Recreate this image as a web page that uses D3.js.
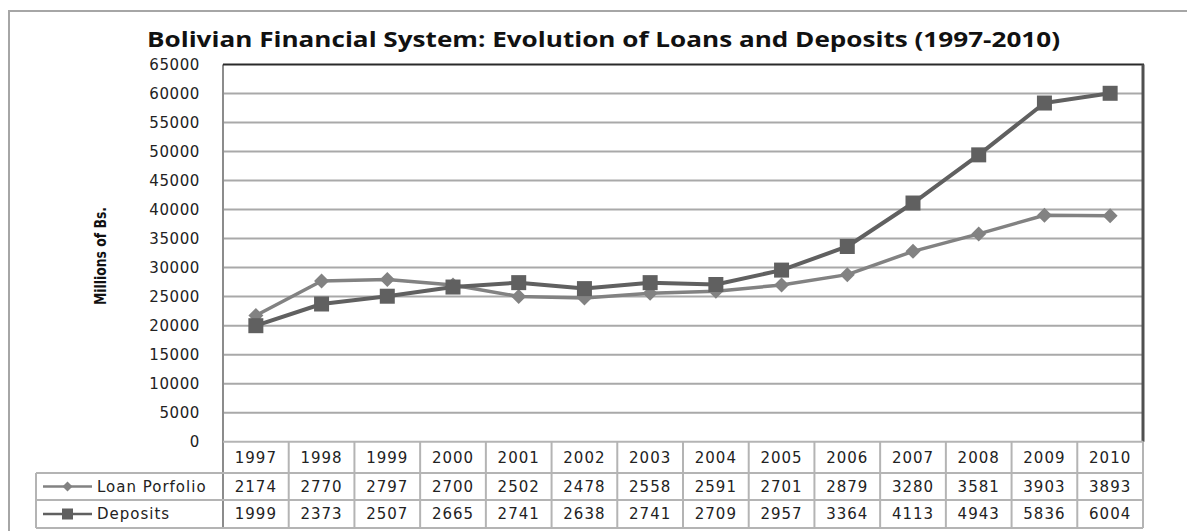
<!DOCTYPE html>
<html>
<head>
<meta charset="utf-8">
<script src="https://cdn.jsdelivr.net/npm/d3@7"></script>
<style>
  html, body { margin: 0; padding: 0; background: #fff; }
  svg { display: block; }
</style>
</head>
<body>
<svg id="chart" width="1187" height="531"></svg>
<script>
// Years shown along the category axis and in the data table header
const years = ["1997", "1998", "1999", "2000", "2001", "2002", "2003",
               "2004", "2005", "2006", "2007", "2008", "2009", "2010"];

// Table figures, in tens of millions of Bs.
const loanPortfolio = [2174, 2770, 2797, 2700, 2502, 2478, 2558, 2591, 2701, 2879, 3280, 3581, 3903, 3893];
const deposits      = [1999, 2373, 2507, 2665, 2741, 2638, 2741, 2709, 2957, 3364, 4113, 4943, 5836, 6004];
const tableUnit = 10; // one table unit = 10 millions of Bs.

// Value axis ticks
const yTicks = [0, 5000, 10000, 15000, 20000, 25000, 30000, 35000, 40000,
                45000, 50000, 55000, 60000, 65000];

const seriesNames = ["Loan Porfolio", "Deposits"];

const svg = d3.select("#chart");
const W = 1187;

const plot = { left: 223, right: 1143, top: 64.5, bottom: 441.7 };
const rowH = [plot.bottom, 473, 500, 528];   // table row boundaries
const legendLeft = 36;

const x = d3.scaleBand().domain(years).range([plot.left, plot.right]);
const y = d3.scaleLinear().domain([0, 65000]).range([plot.bottom, plot.top]);

const gridColor = "#a9a9a9";
const tickFont = "'DejaVu Sans', sans-serif";

// Outer frame
svg.append("path")
  .attr("d", `M9,531 V11 H${W}`)
  .attr("fill", "none")
  .attr("stroke", "#a6a6a6")
  .attr("stroke-width", 2);

// Title
svg.append("text")
  .attr("x", 603.5)
  .attr("y", 47)
  .attr("text-anchor", "middle")
  .attr("font-family", "'Open Sans', sans-serif")
  .attr("font-weight", "bold")
  .attr("font-size", 21)
  .attr("textLength", 913)
  .attr("lengthAdjust", "spacingAndGlyphs")
  .attr("fill", "#111")
  .text("Bolivian Financial System: Evolution of Loans and Deposits (1997-2010)");

// Horizontal gridlines
svg.append("g")
  .selectAll("line")
  .data(yTicks.filter(t => t > 0 && t < 65000))
  .join("line")
  .attr("x1", plot.left)
  .attr("x2", plot.right)
  .attr("y1", d => y(d))
  .attr("y2", d => y(d))
  .attr("stroke", gridColor)
  .attr("stroke-width", 2);

// Value axis with tick labels
const yAxis = d3.axisLeft(y)
  .tickValues(yTicks)
  .tickSize(0)
  .tickPadding(23)
  .tickFormat(d3.format("d"));

const yAxisG = svg.append("g")
  .attr("transform", `translate(${plot.left},0)`)
  .call(yAxis);
yAxisG.select(".domain").remove();
yAxisG.selectAll("text")
  .attr("font-family", tickFont)
  .attr("font-size", 15)
  .attr("letter-spacing", "0.6px")
  .attr("fill", "#222");

// Plot frame: left axis line, top and right edges
svg.append("line")
  .attr("x1", plot.left).attr("x2", plot.left)
  .attr("y1", plot.top).attr("y2", rowH[3])
  .attr("stroke", "#8c8c8c").attr("stroke-width", 2);
svg.append("line")
  .attr("x1", plot.left).attr("x2", plot.right + 1)
  .attr("y1", plot.top).attr("y2", plot.top)
  .attr("stroke", "#2a2a2a").attr("stroke-width", 2);
svg.append("line")
  .attr("x1", plot.right).attr("x2", plot.right)
  .attr("y1", plot.top).attr("y2", plot.bottom)
  .attr("stroke", "#505050").attr("stroke-width", 3);

// Y axis title
svg.append("text")
  .attr("transform", "translate(106,256) rotate(-90)")
  .attr("text-anchor", "middle")
  .attr("font-family", "'Liberation Sans Narrow', 'DejaVu Sans Condensed', sans-serif")
  .attr("font-weight", "bold")
  .attr("font-size", 15)
  .attr("textLength", 98)
  .attr("lengthAdjust", "spacingAndGlyphs")
  .attr("fill", "#111")
  .text("Millions of Bs.");

// Series lines and markers
const seriesDefs = [
  { name: seriesNames[0], values: loanPortfolio, color: "#828282", width: 3.5, marker: "diamond" },
  { name: seriesNames[1], values: deposits,      color: "#606060", width: 4,   marker: "square" }
];

const line = d3.line()
  .x((d, i) => x(years[i]) + x.bandwidth() / 2)
  .y(d => y(d * tableUnit));

function drawMarker(g, type, cx, cy, size, color) {
  if (type === "diamond") {
    const r = size / 2;
    g.append("path")
      .attr("d", `M${cx},${cy - r} L${cx + r},${cy} L${cx},${cy + r} L${cx - r},${cy} Z`)
      .attr("fill", color);
  } else {
    g.append("rect")
      .attr("x", cx - size / 2).attr("y", cy - size / 2)
      .attr("width", size).attr("height", size)
      .attr("fill", color);
  }
}

seriesDefs.forEach(s => {
  const g = svg.append("g");
  g.append("path")
    .datum(s.values)
    .attr("d", line)
    .attr("fill", "none")
    .attr("stroke", s.color)
    .attr("stroke-width", s.width)
    .attr("stroke-linejoin", "round");
  s.values.forEach((v, i) => {
    const cx = x(years[i]) + x.bandwidth() / 2;
    const cy = y(v * tableUnit);
    drawMarker(g, s.marker, cx, cy, 15, s.color);
  });
});

// Data table grid
const table = svg.append("g");
const tableStroke = "#b4b4b4";

// horizontal rules
table.append("line")
  .attr("x1", plot.left).attr("x2", plot.right)
  .attr("y1", rowH[0]).attr("y2", rowH[0])
  .attr("stroke", tableStroke).attr("stroke-width", 2);
[rowH[1], rowH[2], rowH[3]].forEach(yy => {
  table.append("line")
    .attr("x1", legendLeft).attr("x2", plot.right)
    .attr("y1", yy).attr("y2", yy)
    .attr("stroke", tableStroke).attr("stroke-width", 2);
});
// vertical rules between year columns
years.forEach((yr, i) => {
  if (i === 0) return;
  table.append("line")
    .attr("x1", x(yr)).attr("x2", x(yr))
    .attr("y1", rowH[0]).attr("y2", rowH[3])
    .attr("stroke", tableStroke).attr("stroke-width", 2);
});
table.append("line")
  .attr("x1", plot.right).attr("x2", plot.right)
  .attr("y1", rowH[0]).attr("y2", rowH[3])
  .attr("stroke", tableStroke).attr("stroke-width", 2);
table.append("line")
  .attr("x1", legendLeft).attr("x2", legendLeft)
  .attr("y1", rowH[1]).attr("y2", rowH[3])
  .attr("stroke", tableStroke).attr("stroke-width", 2);

// table text
function cellText(txt, cx, cy, anchor) {
  table.append("text")
    .attr("x", cx).attr("y", cy)
    .attr("dy", "0.36em")
    .attr("text-anchor", anchor || "middle")
    .attr("font-family", tickFont)
    .attr("font-size", 15)
    .attr("letter-spacing", "1px")
    .attr("fill", "#222")
    .text(txt);
}

years.forEach(yr => cellText(yr, x(yr) + x.bandwidth() / 2, (rowH[0] + rowH[1]) / 2));
loanPortfolio.forEach((v, i) => cellText(String(v), x(years[i]) + x.bandwidth() / 2, (rowH[1] + rowH[2]) / 2));
deposits.forEach((v, i) => cellText(String(v), x(years[i]) + x.bandwidth() / 2, (rowH[2] + rowH[3]) / 2));

// legend keys inside the table
seriesDefs.forEach((s, i) => {
  const cy = (rowH[i + 1] + rowH[i + 2]) / 2;
  table.append("line")
    .attr("x1", 43).attr("x2", 92)
    .attr("y1", cy).attr("y2", cy)
    .attr("stroke", s.color).attr("stroke-width", 2.5);
  drawMarker(table, s.marker, 67.5, cy, s.marker === "diamond" ? 10 : 11, s.color);
  cellText(s.name, 97, cy, "start");
});
</script>
</body>
</html>
